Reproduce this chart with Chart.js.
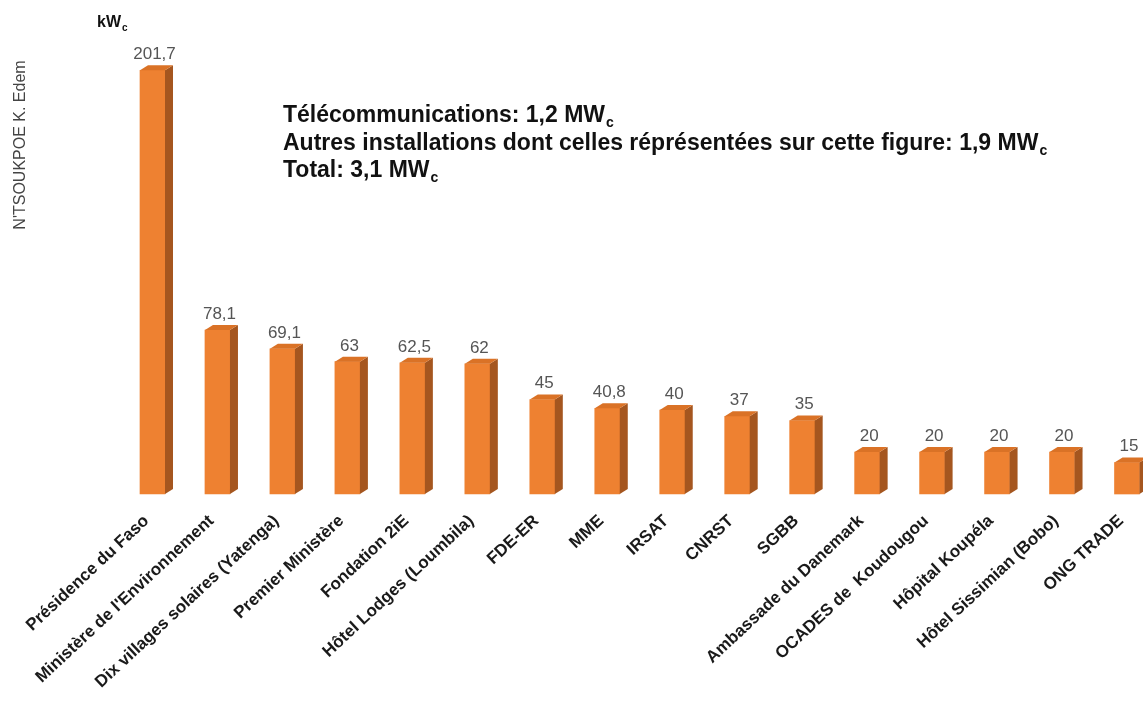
<!DOCTYPE html>
<html>
<head>
<meta charset="utf-8">
<script src="https://cdn.jsdelivr.net/npm/chart.js@4.4.1/dist/chart.umd.min.js"></script>
<style>
  html, body { margin: 0; padding: 0; background: #ffffff; overflow: hidden; }
  canvas { display: block; }
</style>
</head>
<body>
<canvas id="c" width="1143" height="704"></canvas>
<script>
// ---- data ----
const categories = [
  "Présidence du Faso",
  "Ministère de l'Environnement",
  "Dix villages solaires (Yatenga)",
  "Premier Ministère",
  "Fondation 2iE",
  "Hôtel Lodges (Loumbila)",
  "FDE-ER",
  "MME",
  "IRSAT",
  "CNRST",
  "SGBB",
  "Ambassade du Danemark",
  "OCADES de  Koudougou",
  "Hôpital Koupéla",
  "Hôtel Sissimian (Bobo)",
  "ONG TRADE"
];
const capacityKWc = [201.7, 78.1, 69.1, 63, 62.5, 62, 45, 40.8, 40, 37, 35, 20, 20, 20, 20, 15];
const unitLabel = ["kW", "c"];
const authorLabel = "N'TSOUKPOE K. Edem";
const noteLines = [
  ["Télécommunications: 1,2 MW", "c"],
  ["Autres installations dont celles réprésentées sur cette figure: 1,9 MW", "c"],
  ["Total: 3,1 MW", "c"]
];

const FRONT = '#EE8131';
const TOP = '#DA7226';
const SIDE = '#A5561F';
const DEPTH_X = 8, DEPTH_Y = 5;

function fmt(v) { return String(v).replace('.', ','); }

const bar3d = {
  id: 'bar3d',
  afterDatasetsDraw(chart) {
    const ctx = chart.ctx;
    const meta = chart.getDatasetMeta(0);
    ctx.save();
    meta.data.forEach((el, i) => {
      const p = el.getProps(['x', 'y', 'base', 'width'], true);
      const l = p.x - p.width / 2, r = p.x + p.width / 2;
      // side face
      ctx.fillStyle = SIDE;
      ctx.beginPath();
      ctx.moveTo(r, p.y);
      ctx.lineTo(r + DEPTH_X, p.y - DEPTH_Y);
      ctx.lineTo(r + DEPTH_X, p.base - DEPTH_Y);
      ctx.lineTo(r, p.base);
      ctx.closePath();
      ctx.fill();
      // top face
      ctx.fillStyle = TOP;
      ctx.beginPath();
      ctx.moveTo(l, p.y);
      ctx.lineTo(l + DEPTH_X, p.y - DEPTH_Y);
      ctx.lineTo(r + DEPTH_X, p.y - DEPTH_Y);
      ctx.lineTo(r, p.y);
      ctx.closePath();
      ctx.fill();
      // value label
      ctx.fillStyle = '#555555';
      ctx.font = '17px "Liberation Sans", Arial, sans-serif';
      ctx.textAlign = 'center';
      ctx.textBaseline = 'alphabetic';
      ctx.fillText(fmt(capacityKWc[i]), p.x + 2, p.y - 11);
    });
    ctx.restore();
  }
};

function subText(ctx, x, y, main, sub, size, subSize, drop) {
  ctx.font = 'bold ' + size + 'px "Liberation Sans", Arial, sans-serif';
  ctx.fillText(main, x, y);
  const w = ctx.measureText(main).width;
  ctx.font = 'bold ' + subSize + 'px "Liberation Sans", Arial, sans-serif';
  ctx.fillText(sub, x + w + 1, y + drop);
}

const texts = {
  id: 'texts',
  afterDraw(chart) {
    const ctx = chart.ctx;
    ctx.save();
    ctx.textAlign = 'left';
    ctx.textBaseline = 'alphabetic';
    ctx.fillStyle = '#111111';
    subText(ctx, 97, 27, unitLabel[0], unitLabel[1], 16, 10, 4);
    noteLines.forEach((ln, k) => {
      subText(ctx, 283, 122 + k * 27.5, ln[0], ln[1], 23, 14, 5);
    });
    // author
    ctx.fillStyle = '#444444';
    ctx.font = '16px "Liberation Sans", Arial, sans-serif';
    ctx.translate(25, 145);
    ctx.rotate(-Math.PI / 2);
    ctx.textAlign = 'center';
    ctx.fillText(authorLabel, 0, 0);
    ctx.restore();
  }
};

new Chart(document.getElementById('c'), {
  type: 'bar',
  data: {
    labels: categories,
    datasets: [{
      data: capacityKWc,
      backgroundColor: FRONT,
      borderWidth: 0,
      barThickness: 25,
      clip: false
    }]
  },
  options: {
    responsive: false,
    devicePixelRatio: 1,
    animation: false,
    layout: { padding: { left: 152.5, right: 16, top: 0, bottom: 0 } },
    plugins: { legend: { display: false }, tooltip: { enabled: false }, title: { display: false } },
    scales: {
      x: {
        type: 'category',
        offset: false,
        grid: { display: false },
        border: { display: false },
        ticks: {
          autoSkip: false,
          minRotation: 43,
          maxRotation: 43,
          padding: 9,
          labelOffset: -6,
          color: '#1a1a1a',
          font: { family: '"Liberation Sans", Arial, sans-serif', size: 17, weight: 'bold' }
        },
        afterFit(scale) {
          scale.height = 210;
          scale.paddingLeft = 0;
          scale.paddingRight = 0;
        }
      },
      y: {
        display: false,
        min: 0,
        max: 235.2
      }
    }
  },
  plugins: [bar3d, texts]
});
</script>
</body>
</html>
